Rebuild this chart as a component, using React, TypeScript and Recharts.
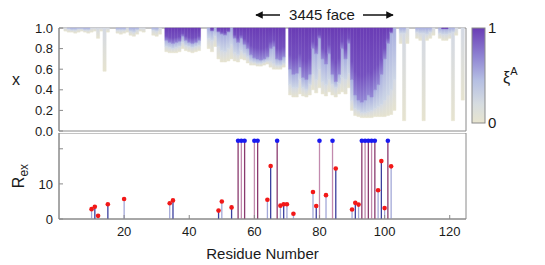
import { ComposedChart, Bar, Scatter, XAxis, YAxis, Cell, ReferenceArea } from "recharts";

// residue index for the x-profile map
const residues = [
  1, 2, 3, 4, 5, 6, 7, 8, 9, 10, 11, 12, 13, 14, 15, 16, 17, 18, 19, 20,
  21, 22, 23, 24, 25, 26, 27, 28, 29, 30, 31, 32, 33, 34, 35, 36, 37, 38, 39, 40,
  41, 42, 43, 44, 45, 46, 47, 48, 49, 50, 51, 52, 53, 54, 55, 56, 57, 58, 59, 60,
  61, 62, 63, 64, 65, 66, 67, 68, 69, 70, 71, 72, 73, 74, 75, 76, 77, 78, 79, 80,
  81, 82, 83, 84, 85, 86, 87, 88, 89, 90, 91, 92, 93, 94, 95, 96, 97, 98, 99, 100,
  101, 102, 103, 104, 105, 106, 107, 108, 109, 110, 111, 112, 113, 114, 115, 116, 117, 118, 119, 120,
  121, 122, 123, 124,
];

// lowest x where xi^A becomes visible (1 = nothing)
const edgeX = [
  1, .97, .96, .96, .95, .96, .97, .96, .95, .96, .97, .9, .97, .58, .96, 1, 1, .95, .94, .95,
  .96, .93, .92, .94, .97, .96, 1, 1, .93, .92, .94, 1, .77, .76, .76, .76, .77, .8, .78, .77,
  .76, .77, .78, 1, 1, .8, .77, .82, .7, .67, .67, .68, .7, .68, .67, .7, .69, .66, .64, .64,
  .63, .63, .64, .65, .62, .6, .6, .6, .62, 1, .35, .33, .33, .36, .34, .33, .35, .4, .37, .42,
  .36, .34, .38, .35, .33, .36, .38, .36, .42, .2, .15, .14, .13, .13, .13, .13, .14, .14, .14, .14,
  .15, .16, .2, 1, .85, .1, .85, 1, 1, .9, .88, .1, .88, .9, .93, 1, .9, .88, .88, .9,
  .1, .93, 1, .3,
];

// lowest x of the light blue band (xi^A around 0.3)
const midX = [
  1, 1, .99, .98, .98, .99, .99, .98, .98, 1, 1, 1, 1, 1, 1, 1, 1, .98, .98, .98,
  1, .97, .96, .98, 1, 1, 1, 1, .98, .97, 1, 1, .82, .81, .8, .81, .82, .86, .83, .82,
  .81, .82, .83, 1, 1, .9, .88, .92, .82, .78, .77, .8, .84, .76, .74, .78, .75, .72, .68, .67,
  .66, .66, .67, .68, .68, .66, .64, .64, .66, 1, .45, .42, .42, .5, .42, .4, .45, .55, .5, .6,
  .48, .45, .5, .45, .42, .46, .52, .5, .56, .3, .22, .2, .18, .18, .19, .2, .22, .24, .26, .3,
  .35, .4, .5, 1, .95, .95, 1, 1, 1, .96, .95, .95, .94, .96, 1, 1, .95, .94, .94, .95,
  .96, 1, 1, 1,
];

// lowest x of the saturated purple core (xi^A near 1)
const coreX = [
  1, 1, 1, 1, 1, 1, 1, 1, 1, 1, 1, 1, 1, 1, 1, 1, 1, 1, 1, 1,
  1, 1, 1, 1, 1, 1, 1, 1, 1, 1, 1, 1, .88, .86, .85, .86, .87, .92, .88, .86,
  .85, .86, .88, 1, 1, 1, .97, 1, .96, .94, .93, .96, 1, .9, .86, .9, .84, .8, .74, .71,
  .7, .69, .7, .72, .8, .82, .7, .69, .72, 1, .6, .55, .56, .62, .52, .5, .55, .8, .75, .9,
  .7, .65, .75, .55, .48, .55, .8, .7, .85, .5, .35, .3, .28, .3, .35, .33, .4, .45, .55, .7,
  .85, .95, 1, 1, 1, 1, 1, 1, 1, 1, 1, 1, 1, 1, 1, 1, 1, .99, .99, 1,
  1, 1, 1, 1,
];

// Rex stems with a measured value
const rexResidues = [10, 11, 12, 15, 20, 34, 35, 49, 50, 53, 64, 65, 68, 69, 70, 72, 78, 79, 82, 85, 90, 91, 92, 98, 99, 100, 102];
const rexValues = [2.8, 3.5, 0.9, 4.2, 5.7, 4.5, 5.3, 2.4, 5.0, 3.3, 5.5, 15.1, 3.8, 4.2, 4.2, 1.5, 7.7, 3.7, 6.8, 14.4, 2.7, 4.6, 4.1, 8.2, 16.5, 3.1, 15.0];
// residues whose Rex is off scale (drawn at the top)
const offScaleResidues = [55, 56, 57, 60, 61, 67, 80, 84, 93, 94, 95, 96, 97, 101];
const OFF_SCALE = 22.3;

const xTicks = [20, 40, 60, 80, 100, 120];
const xFrameTicks = [10, 20, 30, 40, 50, 60, 70, 80, 90, 100, 110, 120];
const xiTicks = [0, 0.2, 0.4, 0.6, 0.8, 1.0];
const rexTicks = [0, 10, 20];

const heatData = residues.map((r, i) => ({
  r,
  base: edgeX[i],
  pale: midX[i] - edgeX[i],
  mid: coreX[i] - midX[i],
  core: 1 - coreX[i],
}));

const stemData = [
  ...rexResidues.map((r, i) => ({ r, stem: rexValues[i], off: false })),
  ...offScaleResidues.map((r) => ({ r, stem: OFF_SCALE, off: true })),
].sort((a, b) => a.r - b.r);
const redPts = rexResidues.map((r, i) => ({ r, v: rexValues[i] }));
const bluePts = offScaleResidues.map((r) => ({ r, v: OFF_SCALE }));

const FONT = "'Liberation Sans', Arial, sans-serif";
const FRAME = "#8a8a8a";
const tickStyle = { fontSize: 13, fill: "#1a1a1a", fontFamily: FONT };
const lineStyle = { stroke: FRAME, strokeWidth: 1 };
const blank = () => "";
const COL = 3.2;

const stemColor = (r: number, off: boolean) => {
  if (off) return r % 2 ? "#8a3a6e" : "#c28aae";
  return r % 2 ? "#3b3f9e" : "#a3a8d8";
};

export default function App() {
  return (
    <div style={{ position: "absolute", left: 0, top: 0, width: 545, height: 265, background: "#fff" }}>
      <div style={{ position: "absolute", left: 0, top: 0 }}>
        <ComposedChart
          width={545}
          height={142}
          data={heatData}
          margin={{ top: 28, right: 79, bottom: 11, left: 29 }}
          barCategoryGap={0}
          barGap={0}
        >
          <defs>
            <linearGradient id="gPale" x1="0" y1="0" x2="0" y2="1">
              <stop offset="0%" stopColor="#d4d9e4" />
              <stop offset="100%" stopColor="#e6e3cf" />
            </linearGradient>
            <linearGradient id="gMid" x1="0" y1="0" x2="0" y2="1">
              <stop offset="0%" stopColor="#a9afe0" />
              <stop offset="100%" stopColor="#cdd6e5" />
            </linearGradient>
            <linearGradient id="gCore" x1="0" y1="0" x2="0" y2="1">
              <stop offset="0%" stopColor="#6a3cb5" />
              <stop offset="65%" stopColor="#7450bf" />
              <stop offset="100%" stopColor="#9388d5" />
            </linearGradient>
          </defs>
          <XAxis
            dataKey="r"
            type="number"
            domain={[0, 125]}
            ticks={xFrameTicks}
            tickFormatter={blank}
            height={0}
            tickSize={-3}
            axisLine={lineStyle}
            tickLine={lineStyle}
          />
          <XAxis
            xAxisId="top"
            dataKey="r"
            type="number"
            orientation="top"
            domain={[0, 125]}
            ticks={xFrameTicks}
            tickFormatter={blank}
            height={0}
            tickSize={-3}
            axisLine={lineStyle}
            tickLine={lineStyle}
          />
          <YAxis
            type="number"
            domain={[0, 1]}
            ticks={xiTicks}
            tickFormatter={(v: number) => v.toFixed(1)}
            width={30}
            tickSize={-4}
            tickMargin={10}
            axisLine={lineStyle}
            tickLine={lineStyle}
            tick={tickStyle}
            interval={0}
          />
          <YAxis
            yAxisId="right"
            orientation="right"
            type="number"
            domain={[0, 1]}
            ticks={xiTicks}
            tickFormatter={blank}
            width={0}
            tickSize={-4}
            axisLine={lineStyle}
            tickLine={lineStyle}
          />
          <Bar dataKey="base" stackId="h" fill="transparent" barSize={COL} isAnimationActive={false} />
          <Bar dataKey="pale" stackId="h" fill="url(#gPale)" stroke="url(#gPale)" strokeWidth={0.5} barSize={COL} isAnimationActive={false} />
          <Bar dataKey="mid" stackId="h" fill="url(#gMid)" stroke="url(#gMid)" strokeWidth={0.5} barSize={COL} isAnimationActive={false} />
          <Bar dataKey="core" stackId="h" fill="url(#gCore)" stroke="url(#gCore)" strokeWidth={0.5} barSize={COL} isAnimationActive={false} />
          <ReferenceArea x1={0} x2={125} y1={0} y2={1} fill="none" stroke={FRAME} strokeWidth={1} ifOverflow="visible" />
        </ComposedChart>
      </div>

      <div style={{ position: "absolute", left: 0, top: 133 }}>
        <ComposedChart
          width={545}
          height={132}
          data={stemData}
          margin={{ top: 0, right: 79, bottom: 0, left: 29 }}
        >
          <XAxis
            dataKey="r"
            type="number"
            domain={[0, 125]}
            ticks={xTicks}
            height={46}
            tickSize={-4}
            tickMargin={12}
            axisLine={lineStyle}
            tickLine={lineStyle}
            tick={tickStyle}
            interval={0}
            label={{
              value: "Residue Number",
              position: "insideBottom",
              offset: 6,
              style: { fontSize: 15, fill: "#1a1a1a", fontFamily: FONT },
            }}
          />
          <XAxis
            xAxisId="top"
            dataKey="r"
            type="number"
            orientation="top"
            domain={[0, 125]}
            ticks={xFrameTicks}
            tickFormatter={blank}
            height={0}
            tickSize={-3}
            axisLine={lineStyle}
            tickLine={lineStyle}
          />
          <YAxis
            type="number"
            domain={[0, 24.5]}
            ticks={rexTicks}
            tickFormatter={(v: number) => (v === 20 ? "" : String(v))}
            width={30}
            tickSize={-4}
            tickMargin={10}
            axisLine={lineStyle}
            tickLine={lineStyle}
            tick={tickStyle}
            interval={0}
          />
          <YAxis
            yAxisId="right"
            orientation="right"
            type="number"
            domain={[0, 24.5]}
            ticks={rexTicks}
            tickFormatter={blank}
            width={0}
            tickSize={-4}
            axisLine={lineStyle}
            tickLine={lineStyle}
          />
          <Bar dataKey="stem" barSize={1.3} isAnimationActive={false}>
            {stemData.map((d) => (
              <Cell key={d.r} fill={stemColor(d.r, d.off)} />
            ))}
          </Bar>
          <Scatter
            data={redPts}
            dataKey="v"
            isAnimationActive={false}
            shape={(p: any) => <circle cx={p.cx} cy={p.cy} r={2.3} fill="#f21818" />}
          />
          <Scatter
            data={bluePts}
            dataKey="v"
            isAnimationActive={false}
            shape={(p: any) => <circle cx={p.cx} cy={p.cy} r={2.3} fill="#1a1af0" />}
          />
          <ReferenceArea x1={0} x2={125} y1={0} y2={24.5} fill="none" stroke={FRAME} strokeWidth={1} ifOverflow="visible" />
        </ComposedChart>
      </div>

      <svg
        width={545}
        height={265}
        style={{ position: "absolute", left: 0, top: 0, pointerEvents: "none" }}
        fontFamily={FONT}
      >
        <defs>
          <linearGradient id="gBar" x1="0" y1="0" x2="0" y2="1">
            <stop offset="0%" stopColor="#6a3cb5" />
            <stop offset="30%" stopColor="#8f84d3" />
            <stop offset="55%" stopColor="#b5bfe3" />
            <stop offset="80%" stopColor="#d6dce0" />
            <stop offset="100%" stopColor="#e8e5cf" />
          </linearGradient>
          <marker id="ah" viewBox="0 0 10 10" refX="9" refY="5" markerWidth="5" markerHeight="5" orient="auto-start-reverse">
            <path d="M0,0 L10,5 L0,10 Z" fill="#111" />
          </marker>
        </defs>
        <rect x={472} y={28} width={13} height={95} fill="url(#gBar)" stroke={FRAME} strokeWidth={1} />
        <text x={488} y={33} fontSize={15} fill="#1a1a1a">1</text>
        <text x={488} y={128} fontSize={15} fill="#1a1a1a">0</text>
        <text x={503} y={83} fontSize={16} fill="#1a1a1a">
          ξ<tspan fontSize={11} dy={-8}>A</tspan>
        </text>
        <text x={16} y={85} fontSize={16} fill="#1a1a1a" textAnchor="middle">x</text>
        <text transform="translate(24,176) rotate(-90)" fontSize={16} fill="#1a1a1a" textAnchor="middle">
          R<tspan fontSize={12} dy={4}>ex</tspan>
        </text>
        <line x1={280} y1={15} x2={256} y2={15} stroke="#111" strokeWidth={1.5} markerEnd="url(#ah)" />
        <text x={322} y={20} fontSize={15} fill="#1a1a1a" textAnchor="middle">3445 face</text>
        <line x1={363} y1={15} x2={393} y2={15} stroke="#111" strokeWidth={1.5} markerEnd="url(#ah)" />
      </svg>
    </div>
  );
}
